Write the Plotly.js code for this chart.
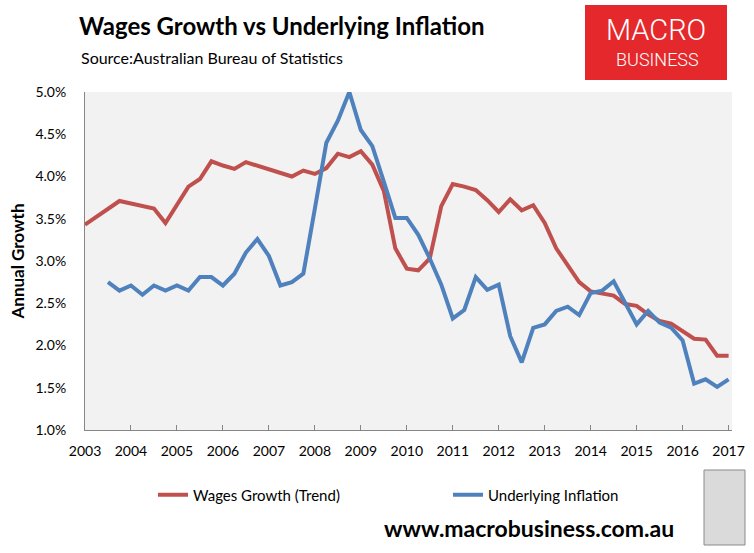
<!DOCTYPE html>
<html>
<head>
<meta charset="utf-8">
<script src="https://cdn.plot.ly/plotly-3.0.1.min.js"></script>
<style>
  html, body { margin: 0; padding: 0; background: #ffffff; }
  #chart { width: 754px; height: 553px; }
</style>
</head>
<body>
<div id="chart"></div>
<script>
// Quarterly series, first wages point = 2003 Q1 position, inflation starts two quarters later
const wagesStartYear = 2003.0;
const inflationStartYear = 2003.5;
const yearTicks = [2003, 2004, 2005, 2006, 2007, 2008, 2009, 2010, 2011, 2012, 2013, 2014, 2015, 2016, 2017];
const yTicks = [1.0, 1.5, 2.0, 2.5, 3.0, 3.5, 4.0, 4.5, 5.0];

const wagesGrowth = [
  3.43, 3.52, 3.62, 3.71, 3.68, 3.65, 3.62, 3.45,
  3.66, 3.88, 3.97, 4.18, 4.13, 4.09, 4.17, 4.13,
  4.09, 4.04, 4.00, 4.07, 4.03, 4.10, 4.27, 4.23,
  4.30, 4.14, 3.83, 3.15, 2.91, 2.89, 3.03, 3.65,
  3.91, 3.88, 3.84, 3.72, 3.58, 3.73, 3.60, 3.66,
  3.45, 3.15, 2.94, 2.75, 2.64, 2.62, 2.59, 2.49,
  2.47, 2.37, 2.29, 2.26, 2.17, 2.08, 2.07, 1.88,
  1.88
];

const underlyingInflation = [
  2.75, 2.65, 2.71, 2.60, 2.71, 2.65,
  2.71, 2.65, 2.81, 2.81, 2.71, 2.85, 3.10, 3.26,
  3.06, 2.71, 2.75, 2.85, 3.62, 4.40, 4.66, 5.00,
  4.55, 4.36, 3.94, 3.51, 3.51, 3.31, 3.03, 2.72,
  2.32, 2.42, 2.81, 2.66, 2.72, 2.11, 1.80, 2.21,
  2.25, 2.41, 2.46, 2.36, 2.62, 2.65, 2.76, 2.51,
  2.25, 2.41, 2.27, 2.21, 2.06, 1.55, 1.60, 1.51,
  1.60
];

const seriesNames = ["Wages Growth (Trend)", "Underlying Inflation"];

function quarterAxis(start, n) {
  const out = [];
  for (let i = 0; i < n; i++) out.push(start + i / 4);
  return out;
}

const FONT = "Lato, 'Open Sans', sans-serif";

const traces = [
  {
    x: quarterAxis(wagesStartYear, wagesGrowth.length),
    y: wagesGrowth,
    name: seriesNames[0],
    type: "scatter",
    mode: "lines",
    line: { color: "#c0504d", width: 4 },
    legend: "legend",
    cliponaxis: false
  },
  {
    x: quarterAxis(inflationStartYear, underlyingInflation.length),
    y: underlyingInflation,
    name: seriesNames[1],
    type: "scatter",
    mode: "lines",
    line: { color: "#4f81bd", width: 4 },
    legend: "legend2",
    cliponaxis: false
  }
];

// pixel helpers for paper coordinates (plot area 85..732 x 92..430)
const PL = 85, PR = 732, PT = 92, PB = 430;
const px = p => (p - PL) / (PR - PL);
const py = p => (PB - p) / (PB - PT);

const legendCommon = {
  orientation: "h",
  yanchor: "middle",
  y: py(495),
  font: { family: FONT, size: 15, color: "#000000" },
  bgcolor: "rgba(0,0,0,0)",
  itemclick: false,
  itemdoubleclick: false
};

const layout = {
  width: 754,
  height: 553,
  margin: { l: PL, r: 754 - PR, t: PT, b: 553 - PB, pad: 0 },
  paper_bgcolor: "#ffffff",
  plot_bgcolor: "#f2f2f2",
  font: { family: FONT, size: 13, color: "#000000" },
  title: {
    text: "<b>Wages Growth vs Underlying Inflation</b>",
    font: { family: FONT, size: 24, color: "#000000" },
    xref: "container", yref: "container",
    x: 79 / 754, xanchor: "left",
    y: 1 - 27 / 553, yanchor: "middle"
  },
  xaxis: {
    range: [2003, 2017.074],
    tickmode: "array",
    tickvals: yearTicks,
    ticktext: yearTicks.map(String),
    ticks: "inside",
    ticklen: 5,
    tickcolor: "#868686",
    showline: true,
    linecolor: "#868686",
    linewidth: 1,
    showgrid: false,
    zeroline: false,
    tickfont: { family: FONT, size: 14, color: "#000000" },
    ticklabelstandoff: 8,
    fixedrange: true
  },
  yaxis: {
    range: [1.0, 5.0],
    tickmode: "array",
    tickvals: yTicks,
    ticktext: yTicks.map(v => v.toFixed(1) + "%"),
    ticks: "",
    showline: true,
    linecolor: "#868686",
    linewidth: 1,
    showgrid: false,
    zeroline: false,
    tickfont: { family: FONT, size: 14, color: "#000000" },
    ticklabelstandoff: 15,
    title: {
      text: "<b>Annual Growth</b>",
      font: { family: FONT, size: 17, color: "#000000" },
      standoff: 6
    },
    fixedrange: true
  },
  showlegend: true,
  legend: Object.assign({}, legendCommon, { x: px(153), xanchor: "left" }),
  legend2: Object.assign({}, legendCommon, { x: px(448), xanchor: "left" }),
  shapes: [
    {
      type: "rect", xref: "paper", yref: "paper",
      x0: px(585), x1: px(727), y0: py(80), y1: py(5),
      fillcolor: "#e5282c", line: { width: 0 }, layer: "above"
    },
    {
      type: "rect", xref: "paper", yref: "paper",
      x0: px(704), x1: px(745), y0: py(545), y1: py(470),
      fillcolor: "#dadada", line: { width: 1, color: "#8a8a8a" }, layer: "above"
    }
  ],
  annotations: [
    {
      text: "Source:Australian Bureau of Statistics",
      xref: "paper", yref: "paper",
      x: px(79), xanchor: "left", y: py(58), yanchor: "middle",
      showarrow: false,
      font: { family: FONT, size: 16, color: "#000000" }
    },
    {
      text: "MACRO",
      xref: "paper", yref: "paper",
      x: px(656), xanchor: "center", y: py(30), yanchor: "middle",
      showarrow: false,
      font: { family: "Roboto, sans-serif", size: 29, color: "#ffffff", weight: 300 }
    },
    {
      text: "BUSINESS",
      xref: "paper", yref: "paper",
      x: px(657), xanchor: "center", y: py(59), yanchor: "middle",
      showarrow: false,
      font: { family: "Roboto, sans-serif", size: 18, color: "#ffffff", weight: 300 }
    },
    {
      text: "<b>www.macrobusiness.com.au</b>",
      xref: "paper", yref: "paper",
      x: px(529), xanchor: "center", y: py(528), yanchor: "middle",
      showarrow: false,
      font: { family: FONT, size: 23, color: "#000000" }
    }
  ]
};

Plotly.newPlot("chart", traces, layout, { displayModeBar: false, staticPlot: true });
</script>
</body>
</html>
